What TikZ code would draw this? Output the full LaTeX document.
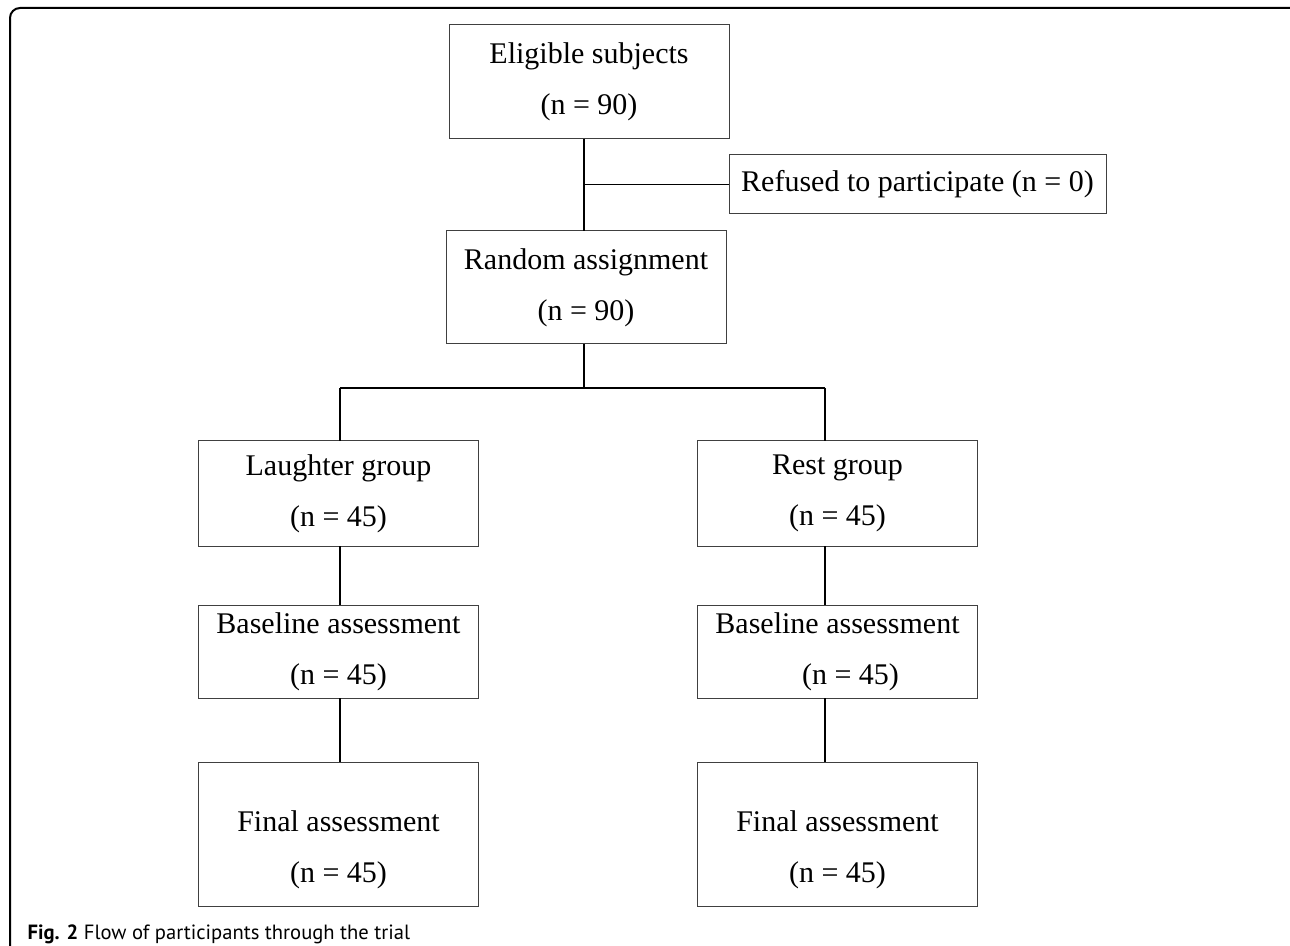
\documentclass[tikz,border=0pt]{standalone}
\usepackage{fontspec}
\setmainfont{Liberation Serif}
\newfontfamily\capfont{PT Sans}
\usetikzlibrary{positioning}

\begin{document}
\begin{tikzpicture}[x=0.5pt, y=-0.5pt, outer sep=0pt]

\tikzstyle{box}=[rectangle,draw=black!75,line width=0.5pt,align=center,inner sep=0pt,font=\fontsize{15}{25.5}\selectfont]
\tikzstyle{wide}=[box,minimum width=140pt]
\tikzstyle{link}=[draw,line width=0.6pt]

\useasboundingbox (0,0) rectangle (1290,946);
\clip (0,0) rectangle (1290,946);
\draw[line width=1pt,rounded corners=5pt] (10,8) rectangle (1320,990);

\node[wide,minimum height = 57pt] (eligible) at (589,82) {Eligible subjects\\(n = 90)};
\node[box,minimum width=188.5pt,minimum height = 29.5pt] (refused) at (917.5,184.5) {Refused to participate (n = 0)};
\node[wide,minimum height = 56.5pt] (random) at (586,287.5) {Random assignment\\(n = 90)};
\node[wide,minimum height = 52.5pt] (laughter) at (338.5,493.5) {Laughter group\\(n = 45)};
\node[wide,minimum height = 52.5pt] (rest) at (837.5,493.5) {Rest group\\(n = 45)};
\node[wide,minimum height = 46.5pt] (baseL) at (338.5,651.5) {Baseline assessment\\(n = 45)};
\node[wide,minimum height = 46.5pt] (baseR) at (837.5,651.5) {Baseline assessment\\\hspace{13pt}(n = 45)};
\node[wide,minimum height = 72pt] (finalL) at (338.5,834) {\rule{0pt}{26pt}Final assessment\\(n = 45)};
\node[wide,minimum height = 72pt] (finalR) at (837.5,834) {\rule{0pt}{26pt}Final assessment\\(n = 45)};

\coordinate (trunk) at (584,388);
\coordinate (leftcol) at (340,388);
\coordinate (rightcol) at (825,388);

\draw[link] (trunk |- eligible.south) -- (trunk |- random.north);
\draw[link] (trunk |- refused.west) -- (refused.west);
\draw[link] (trunk |- random.south) -- (trunk);
\draw[link] (leftcol) -- (rightcol);
\draw[link] (leftcol) -- (leftcol |- laughter.north);
\draw[link] (rightcol) -- (rightcol |- rest.north);
\draw[link] (leftcol |- laughter.south) -- (leftcol |- baseL.north);
\draw[link] (leftcol |- baseL.south) -- (leftcol |- finalL.north);
\draw[link] (rightcol |- rest.south) -- (rightcol |- baseR.north);
\draw[link] (rightcol |- baseR.south) -- (rightcol |- finalR.north);

\node[anchor=base west,font=\capfont\fontsize{10.3}{12}\selectfont] (caption) at (21,939) {\textbf{Fig. 2} Flow of participants through the trial};
\end{tikzpicture}
\end{document}
